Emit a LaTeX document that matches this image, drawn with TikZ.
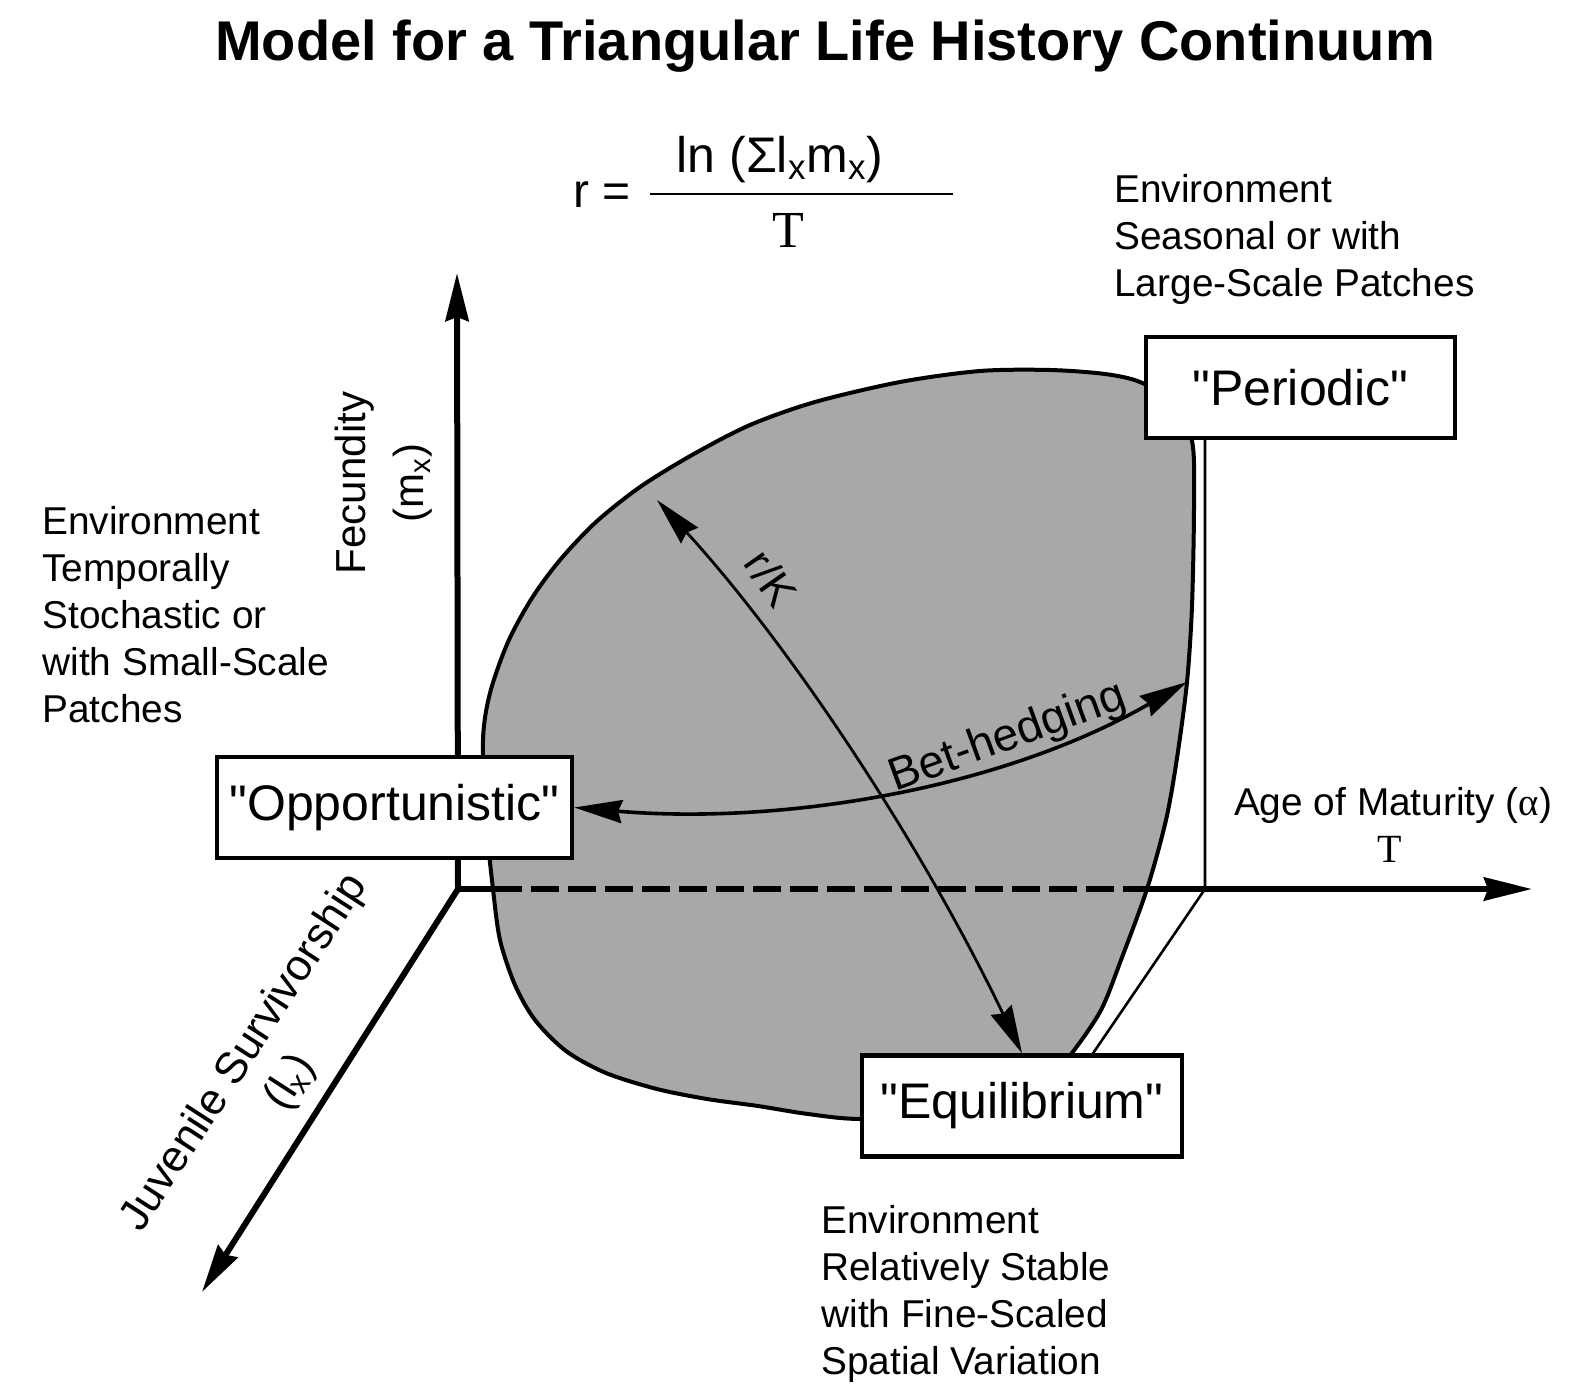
\documentclass[tikz,border=0pt]{standalone}
\usepackage{fontspec}
\setmainfont{Liberation Sans}
\newfontfamily\timesfont{Liberation Serif}
\usetikzlibrary{arrows.meta}

\begin{document}
\begin{tikzpicture}[x=0.5pt,y=-0.5pt,
  >={Stealth[length=24pt,width=11.5pt,inset=2pt]},
  axis/.style={line width=3pt},
  statebox/.style={draw,line width=2.2pt,fill=white,inner sep=0pt,minimum height=50.5pt,font=\fontsize{25}{30}\selectfont},
  envtext/.style={anchor=north west,align=left,inner sep=0pt,font=\fontsize{19.4}{23.5}\selectfont},
  axlabel/.style={align=center,inner sep=0pt,font=\fontsize{21}{29}\selectfont}]
\useasboundingbox (0,0) rectangle (1584,1386);

\node[anchor=base,font=\bfseries\fontsize{28}{34}\selectfont] (title) at (825,61) {Model for a Triangular Life History Continuum};

% r = ln / T
\node[anchor=base,font=\fontsize{25}{30}\selectfont] (num) at (780,172) {ln (Σl\textsubscript{x}m\textsubscript{x})};
\node[anchor=base,font=\fontsize{24}{30}\selectfont] (req) at (602,207) {r =};
\node[anchor=base,font=\timesfont\fontsize{26}{30}\selectfont] (den) at (788,247) {T};
\coordinate (barL) at (650,194);
\coordinate (barR) at (953,194);
\draw[line width=1.4pt] (barL) -- (barR);

% life history region
\draw[line width=2pt,fill=black!34] plot[smooth cycle] coordinates {
  (493,889) (486,820) (483,740) (490,693) (508,642) (532,598) (560,560) (596,522)
  (640,487) (692,455) (750,425) (815,402) (900,382) (980,371) (1050,370) (1105,374)
  (1140,382) (1172,402) (1192,441) (1194,505) (1192,606) (1187,682) (1177,758)
  (1166,820) (1147,889) (1121,960) (1101,1010) (1072,1053) (1040,1090) (960,1115)
  (861,1119) (808,1114) (758,1106) (707,1099) (657,1089) (606,1073) (566,1051)
  (535,1020) (515,985) (500,940)};

% axes
\coordinate (O) at (458,889);
\coordinate (ytip) at (457,273);
\coordinate (xtip) at (1532,889);
\coordinate (ztip) at (202,1292);
\coordinate (bl) at (494,889);
\coordinate (br) at (1147,889);
\draw[axis,->] (O) -- (ytip);
\draw[axis,->] (O) -- (ztip);
\draw[axis] (O) -- (bl);
\draw[axis,dash pattern=on 14pt off 4.5pt] (bl) -- (br);
\draw[axis,->] (br) -- (xtip);

\node[statebox,minimum width=154.5pt] (per) at (1300.5,387.5) {\textquotedbl Periodic\textquotedbl};
\node[statebox,minimum width=177.5pt] (opp) at (394.5,807.5) {\textquotedbl Opportunistic\textquotedbl};
\node[statebox,minimum width=160pt] (equ) at (1022,1106) {\textquotedbl Equilibrium\textquotedbl};

\coordinate (pf) at (1205,889);
\draw[line width=1.3pt] (per.south -| pf) -- (pf) -- (equ.north -| 1093,0);

% r/K and bet-hedging
\coordinate (rk) at (657,500);
\coordinate (bh) at (1187,682);
\draw[<->,line width=1.4pt] (rk) .. controls (787,642) and (918,837) .. (equ.north);
\draw[<->,line width=1.8pt] (opp.east) .. controls (780,825) and (1000,790) .. (bh);
\node[rotate=-55,font=\fontsize{22}{26}\selectfont] (rklab) at (771,578) {r/K};
\node[rotate=20,font=\fontsize{23}{26}\selectfont] (bhlab) at (1008,738) {Bet-hedging};

\node[envtext] (envleft) at (42,506) {Environment\\Temporally\\Stochastic or\\with Small-Scale\\Patches};
\node[envtext] (envtop) at (1114,174) {Environment\\Seasonal or with\\Large-Scale Patches};
\node[envtext] (envbot) at (821,1205) {Environment\\Relatively Stable\\with Fine-Scaled\\Spatial Variation};

\node[axlabel,rotate=90] (fec) at (384,483) {Fecundity\\(m\textsubscript{x})};
\node[axlabel,rotate=57,font=\fontsize{22}{27}\selectfont] (juv) at (268,1068) {Juvenile Survivorship\\(l\textsubscript{x})};
\node[anchor=base west,font=\fontsize{19.4}{23.5}\selectfont] (age) at (1227,815) {Age of Maturity ({\timesfont α})};
\node[anchor=base,font=\timesfont\fontsize{20}{24}\selectfont] (aget) at (1390,862) {T};
\end{tikzpicture}
\end{document}
